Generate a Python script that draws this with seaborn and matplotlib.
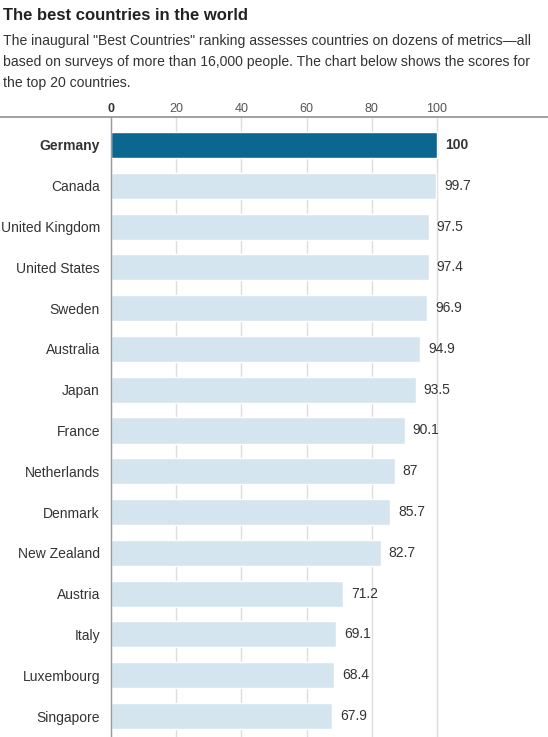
import matplotlib
matplotlib.use("Agg")
import matplotlib.pyplot as plt
import seaborn as sns
from matplotlib.lines import Line2D

# data
countries = ["Germany", "Canada", "United Kingdom", "United States", "Sweden",
             "Australia", "Japan", "France", "Netherlands", "Denmark",
             "New Zealand", "Austria", "Italy", "Luxembourg", "Singapore"]
scores = [100, 99.7, 97.5, 97.4, 96.9, 94.9, 93.5, 90.1, 87, 85.7,
          82.7, 71.2, 69.1, 68.4, 67.9]
score_labels = ["100", "99.7", "97.5", "97.4", "96.9", "94.9", "93.5", "90.1",
                "87", "85.7", "82.7", "71.2", "69.1", "68.4", "67.9"]
ticks = [0, 20, 40, 60, 80, 100]

title = "The best countries in the world"
subtitle = [
    'The inaugural "Best Countries" ranking assesses countries on dozens of metrics\u2014all',
    "based on surveys of more than 16,000 people. The chart below shows the scores for",
    "the top 20 countries.",
]

dark = "#0b6790"
light = "#d5e5f0"
text_col = "#333333"

sns.set_style("white")
plt.rcParams["font.family"] = ["Liberation Sans", "DejaVu Sans"]

W, H = 548, 737
fig = plt.figure(figsize=(W / 100, H / 100), dpi=100)
ax = fig.add_axes([111 / W, 0, 1 - 111 / W, 1 - 117 / H])

colors = {c: (dark if i == 0 else light) for i, c in enumerate(countries)}
sns.barplot(x=scores, y=countries, hue=countries, palette=colors,
            legend=False, width=0.64, ax=ax, saturation=1, zorder=2)

px_per_unit = 326 / 100
ax.set_xlim(0, (W - 111) / px_per_unit)
ax.set_ylim(len(countries) - 1 + 21 / 40.8, -28 / 40.8)

ax.set_xticks(ticks)
ax.xaxis.tick_top()
ax.tick_params(axis="x", length=0, pad=1.5, labelsize=9, labelcolor="#555555")
for lab in ax.get_xticklabels():
    if lab.get_text() == "0":
        lab.set_fontweight("bold")
        lab.set_color(text_col)
ax.grid(axis="x", color="#dddddd", linewidth=1, zorder=0)
ax.grid(axis="y", visible=False)
ax.set_axisbelow(True)

ax.tick_params(axis="y", length=0, pad=8, labelsize=10, labelcolor=text_col)
for lab in ax.get_yticklabels():
    if lab.get_text() == "Germany":
        lab.set_fontweight("bold")
ax.set_xlabel("")
ax.set_ylabel("")

for s in ["top", "right", "bottom"]:
    ax.spines[s].set_visible(False)
ax.spines["left"].set_color("#999999")
ax.spines["left"].set_linewidth(1)

for i, (v, t) in enumerate(zip(scores, score_labels)):
    ax.text(v + 8 / px_per_unit, i, t, va="center", ha="left", fontsize=10,
            color=text_col, fontweight="bold" if i == 0 else "normal")

# header rule across the full width
fig.add_artist(Line2D([0, 1], [1 - 117 / H, 1 - 117 / H], transform=fig.transFigure,
                      color="#999999", linewidth=1.3))

fig.text(3 / W, 1 - 15 / H, title, fontsize=12, fontweight="bold",
         color="#222222", va="center", ha="left")
for k, line in enumerate(subtitle):
    fig.text(3 / W, 1 - (41 + 21 * k) / H, line, fontsize=10.1,
             color=text_col, va="center", ha="left")

fig.savefig("out.png", dpi=100)
